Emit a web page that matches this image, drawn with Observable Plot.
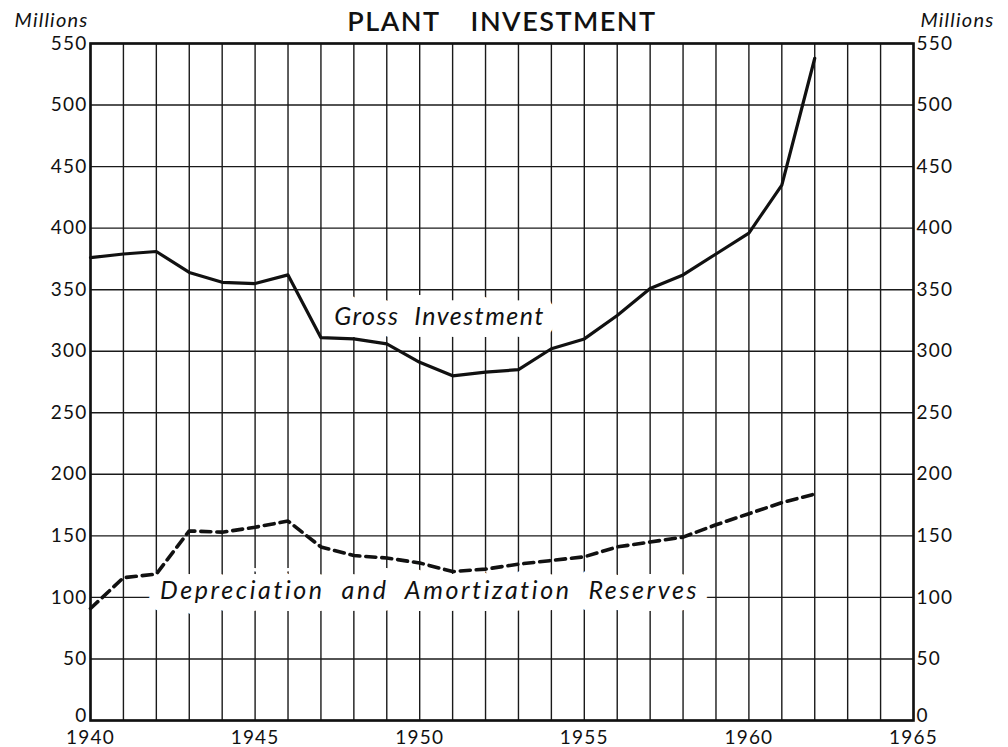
<!DOCTYPE html>
<html>
<head>
<meta charset="utf-8">
<script src="https://cdn.jsdelivr.net/npm/d3@7"></script>
<script src="https://cdn.jsdelivr.net/npm/@observablehq/plot@0.6"></script>
<style>
  html, body { margin: 0; padding: 0; background: #fff; }
  #chart { width: 1008px; height: 747px; }
</style>
</head>
<body>
<div id="chart"></div>
<script>
const years = [1940,1941,1942,1943,1944,1945,1946,1947,1948,1949,1950,1951,1952,1953,1954,1955,1956,1957,1958,1959,1960,1961,1962];
const grossInvestment = [376,379,381,364,356,355,362,311,310,306,291,280,283,285,302,310,329,351,362,379,396,435,538];
const depreciationReserves = [91,116,119,154,153,157,162,141,134,132,128,121,123,127,130,133,141,145,149,159,168,177,184];

const gridYears = [1940,1941,1942,1943,1944,1945,1946,1947,1948,1949,1950,1951,1952,1953,1954,1955,1956,1957,1958,1959,1960,1961,1962,1963,1964,1965];
const yTicks = [0,50,100,150,200,250,300,350,400,450,500,550];
const xTickLabels = [1940,1945,1950,1955,1960,1965];

const titleText = "PLANT\u2002\u2002INVESTMENT";
const unitText = "Millions";
const seriesLabels = [
  {year: 1950.6, value: 328, text: "Gross  Investment"},
  {year: 1950.3, value: 105, text: "Depreciation  and  Amortization  Reserves"}
];

const grossData = years.map((y, i) => ({year: y, value: grossInvestment[i]}));
const depData = years.map((y, i) => ({year: y, value: depreciationReserves[i]}));

const font = "Lato, 'DejaVu Sans', sans-serif";
const upperTicks = yTicks.filter(d => d > 0);
const zeroTick = yTicks.filter(d => d === 0);

const chart = Plot.plot({
  width: 1008,
  height: 747,
  marginLeft: 90,
  marginRight: 95,
  marginTop: 43,
  marginBottom: 27,
  style: {fontFamily: font, background: "#fff", color: "#111"},
  x: {domain: [1940, 1965], axis: null, label: null},
  y: {domain: [0, 550], axis: null, label: null},
  marks: [
    Plot.ruleX(gridYears, {stroke: "#1a1a1a", strokeWidth: 1.4}),
    Plot.ruleY(yTicks, {stroke: "#1a1a1a", strokeWidth: 1.4}),
    Plot.text(seriesLabels, {
      x: "year", y: "value", text: "text",
      fontSize: 25, fontStyle: "italic", fill: "#111",
      stroke: "#fff", strokeWidth: 24, strokeLinejoin: "round"
    }),
    Plot.line(grossData, {x: "year", y: "value", stroke: "#111", strokeWidth: 3.2}),
    Plot.line(depData, {x: "year", y: "value", stroke: "#111", strokeWidth: 3.6, strokeDasharray: "10,6"}),
    Plot.frame({stroke: "#111", strokeWidth: 2.6}),
    Plot.axisY(upperTicks, {anchor: "left", label: null, tickSize: 0, tickPadding: 3, fontSize: 19, tickFormat: d => String(d)}),
    Plot.axisY(upperTicks, {anchor: "right", label: null, tickSize: 0, tickPadding: 3, fontSize: 19, tickFormat: d => String(d)}),
    Plot.axisY(zeroTick, {anchor: "left", label: null, tickSize: 0, tickPadding: 3, dy: -5, fontSize: 19, tickFormat: d => String(d)}),
    Plot.axisY(zeroTick, {anchor: "right", label: null, tickSize: 0, tickPadding: 3, dy: -5, fontSize: 19, tickFormat: d => String(d)}),
    Plot.axisX(xTickLabels, {anchor: "bottom", label: null, tickSize: 0, tickPadding: 10, fontSize: 19, tickFormat: d => String(d)}),
    Plot.text([titleText], {frameAnchor: "top", lineAnchor: "middle", dy: -21, fontSize: 27, fontWeight: 600, fill: "#111"}),
    Plot.text([unitText], {frameAnchor: "top-left", lineAnchor: "middle", textAnchor: "end", dx: -2, dy: -23, fontSize: 20, fontStyle: "italic", fill: "#111"}),
    Plot.text([unitText], {frameAnchor: "top-right", lineAnchor: "middle", textAnchor: "start", dx: 7, dy: -23, fontSize: 20, fontStyle: "italic", fill: "#111"})
  ]
});

document.getElementById("chart").appendChild(chart);
// letter spacing for the hand-lettered look
d3.select(chart).selectAll("text").each(function() {
  const t = this.textContent;
  if (t.includes("Gross")) this.setAttribute("letter-spacing", "1.5");
  else if (t.includes("Depreciation")) this.setAttribute("letter-spacing", "2.6");
  else if (t.includes("PLANT")) this.setAttribute("letter-spacing", "1.5");
  else if (t === "Millions") this.setAttribute("letter-spacing", "1.2");
  else if (/^\d+$/.test(t)) this.setAttribute("letter-spacing", "1.2");
});
</script>
</body>
</html>
